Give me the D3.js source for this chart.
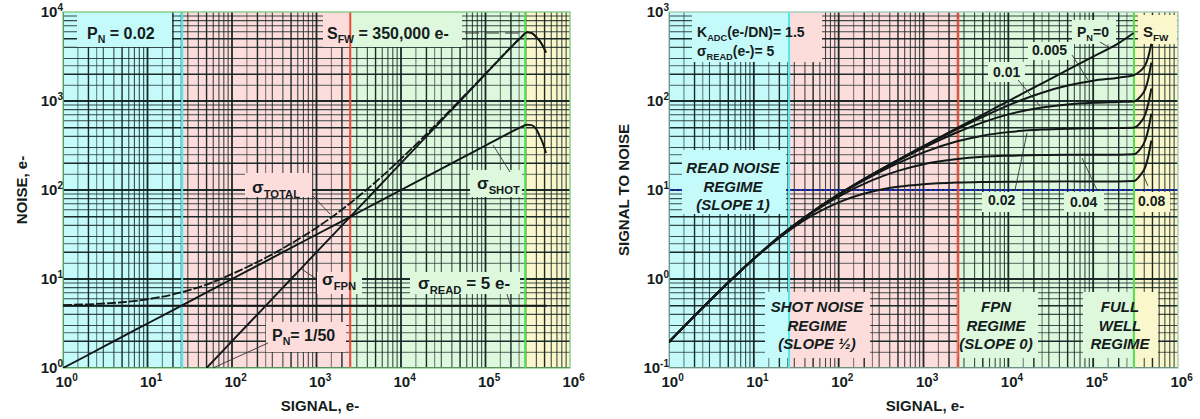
<!DOCTYPE html>
<html><head><meta charset="utf-8">
<script src="https://cdn.jsdelivr.net/npm/d3@7"></script>
<style>
body{margin:0;background:#fff}
svg{display:block}
text{font-family:"Liberation Sans",Arial,sans-serif;font-weight:bold;fill:#141c1c}
</style>
</head><body><svg id="c" width="1200" height="419"></svg>
<script>
// ---------------- DATA ----------------
const decadeTicks = [1, 10, 100, 1e3, 1e4, 1e5, 1e6];
const noiseTicks = [1, 10, 100, 1e3, 1e4];
const snrTicks = [0.1, 1, 10, 100, 1000];
const gridMultipliers = [1, 1.5, 2, 2.5, 3, 4, 5, 6, 7, 8, 9];
const heavyMultipliers = [1, 2, 5];

const regimeEdgesLeft = [1, 25.7, 2510, 295000, 1e6];
const regimeEdgesRight = [1, 26, 2570, 302000, 1e6];
const regimeColors = ["#c4fafa", "#fddcdc", "#ddf8dc", "#fbf7cc"];
const regimeLineColors = ["#4eeaea", "#ee4b3a", "#4ee04e"];

// Left chart: noise vs signal
const shotSignal = [1,2,5,10,25,50,100,250,500,1000,2500,5000,1e4,2.5e4,5e4,1e5,2e5,2.7e5,3.1e5,3.5e5,4e5,4.4e5,4.8e5,5.2e5];
const shotNoise  = [1,1.41,2.24,3.16,5,7.07,10,15.8,22.4,31.6,50,70.7,100,158,224,316,447,515,540,535,480,400,330,260];
const fpnSignal = [50,100,250,500,1000,2500,5000,1e4,2.5e4,5e4,1e5,2e5,2.7e5,3.1e5,3.5e5,4e5,4.4e5,4.8e5,5.2e5];
const fpnNoise  = [1,2,5,10,20,50,100,200,500,1000,2000,4000,5300,5900,5800,5200,4700,4100,3500];
const totalSignal = [1,2,5,10,25,50,100,250,500,1000,2500,5000,1e4,2.5e4,5e4,1e5,2e5,2.7e5,3.1e5,3.5e5,4e5,4.4e5,4.8e5,5.2e5];
const totalNoise  = [5.1,5.2,5.48,5.92,7.07,8.66,11.4,17.3,25,37.7,70.9,123,224,524,1025,2025,4025,5330,5930,5830,5230,4730,4130,3530];
const readSignal = [1, 5.3e5];
const readNoise = [5, 5];

// Right chart: SNR vs signal
const snrSignal = [1,2,5,10,25,50,100,250,500,1000,2500,5000,1e4,2.5e4,5e4,1e5,2e5,3e5];
const snrTailSignal = [3.6e5, 4.1e5, 4.45e5, 4.85e5];
const snrPN0    = [0.196,0.385,0.913,1.69,3.54,5.77,8.94,15.1,21.8,31.2,49.8,70.5,99.9,158,224,316,447,580];
const snrPN005  = [0.196,0.385,0.913,1.69,3.54,5.77,8.93,15.0,21.7,30.9,48.3,66.5,89.4,124,149,169,183,195, 218,252,310,440];
const snrPN01   = [0.196,0.385,0.913,1.69,3.54,5.76,8.91,14.9,21.3,29.8,44.5,57.6,70.7,84.5,91.3,95.3,97.6,99, 112,135,175,270];
const snrPN02   = [0.196,0.385,0.913,1.69,3.53,5.74,8.80,14.4,20.0,26.5,35.3,40.8,44.7,47.7,48.8,49.4,49.7,50, 57,70,92,138];
const snrPN04   = [0.196,0.385,0.912,1.69,3.50,5.63,8.42,12.9,16.4,19.5,22.3,23.6,24.25,24.7,24.85,24.9,24.95,25.2, 29,36,47,72];
const snrPN08   = [0.196,0.385,0.910,1.68,3.40,5.24,7.27,9.62,10.85,11.6,12.12,12.3,12.4,12.45,12.5,12.5,12.5,12.6, 14.7,18,23.5,36];
const snrGuide = [10];

// ---------------- HELPERS ----------------
const svg = d3.select("#c");

function rich(g, x, y, parts, size, opts = {}) {
  const t = g.append("text").attr("x", x).attr("y", y)
    .attr("font-size", size).attr("text-anchor", opts.anchor || "start");
  if (opts.italic) t.attr("font-style", "italic");
  let off = 0;
  parts.forEach(p => {
    const [s, kind] = Array.isArray(p) ? p : [p, null];
    const ts = t.append("tspan").text(s);
    let target = 0, fs = size;
    if (kind === "sub") { target = size * 0.28; fs = size * 0.66; }
    if (kind === "sup") { target = -size * 0.42; fs = size * 0.66; }
    ts.attr("font-size", fs);
    if (target - off !== 0) ts.attr("dy", target - off);
    off = target;
  });
  return t;
}

function pairs(xs, ys) { return xs.map((v, i) => [v, ys[i]]); }

function buildChart(cfg) {
  const g = svg.append("g");
  const x = d3.scaleLog().domain([1, 1e6]).range([cfg.x0, cfg.x1]);
  const y = d3.scaleLog().domain(cfg.yDomain).range([cfg.y1, cfg.y0]);
  const clipId = "clip" + cfg.id;
  svg.append("clipPath").attr("id", clipId).append("rect")
    .attr("x", cfg.x0).attr("y", cfg.y0).attr("width", cfg.x1 - cfg.x0).attr("height", cfg.y1 - cfg.y0);

  const edges = cfg.edges;
  g.selectAll("rect.reg").data(regimeColors).join("rect")
    .attr("x", (d, i) => x(edges[i])).attr("width", (d, i) => x(edges[i + 1]) - x(edges[i]))
    .attr("y", cfg.y0).attr("height", cfg.y1 - cfg.y0).attr("fill", d => d);

  function gridVals(domain) {
    const out = [];
    const lo = Math.round(Math.log10(domain[0])), hi = Math.round(Math.log10(domain[1]));
    for (let e = lo; e < hi; e++) gridMultipliers.forEach(m => out.push({ v: m * Math.pow(10, e), heavy: heavyMultipliers.includes(m), m }));
    return out;
  }
  const op = d => d.heavy ? 0.95 : (d.m % 1 ? 0.55 : 0.8);
  const sw = d => d.m === 1 ? 1.8 : (d.heavy ? 1.4 : 1.1);
  const grid = g.append("g").attr("clip-path", `url(#${clipId})`);
  grid.selectAll("line.vx").data(gridVals([1, 1e6])).join("line")
    .attr("x1", d => x(d.v)).attr("x2", d => x(d.v)).attr("y1", cfg.y0).attr("y2", cfg.y1)
    .attr("stroke", "#102020").attr("stroke-opacity", op).attr("stroke-width", sw);
  grid.selectAll("line.hy").data(gridVals(cfg.yDomain)).join("line")
    .attr("y1", d => y(d.v)).attr("y2", d => y(d.v)).attr("x1", cfg.x0).attr("x2", cfg.x1)
    .attr("stroke", "#102020").attr("stroke-opacity", op).attr("stroke-width", sw);

  if (cfg.guide) {
    g.selectAll("line.guide").data(cfg.guide).join("line")
      .attr("x1", cfg.x0).attr("x2", cfg.x1).attr("y1", d => y(d)).attr("y2", d => y(d))
      .attr("stroke", "#1a2cff").attr("stroke-width", 1.6).attr("stroke-dasharray", "3,2");
  }

  cfg.boxes.forEach(b => {
    const [bx0, bx1, by0, by1] = b;
    for (let i = 0; i < 4; i++) {
      const rx0 = Math.max(bx0, x(edges[i])), rx1 = Math.min(bx1, x(edges[i + 1]));
      if (rx1 > rx0) g.append("rect").attr("x", rx0).attr("y", by0).attr("width", rx1 - rx0)
        .attr("height", by1 - by0).attr("fill", regimeColors[i]);
    }
  });

  g.selectAll("line.edge").data(edges.slice(1, 4)).join("line")
    .attr("x1", d => x(d)).attr("x2", d => x(d)).attr("y1", cfg.y0).attr("y2", cfg.y1)
    .attr("stroke", (d, i) => regimeLineColors[i]).attr("stroke-width", 2);

  g.append("rect").attr("x", cfg.x0).attr("y", cfg.y0).attr("width", cfg.x1 - cfg.x0)
    .attr("height", cfg.y1 - cfg.y0).attr("fill", "none").attr("stroke", cfg.border).attr("stroke-width", 1.3);

  const fmtExp = d => String(Math.round(Math.log10(d)));
  const ax = g.append("g").attr("transform", `translate(0,${cfg.y1})`)
    .call(d3.axisBottom(x).tickValues(decadeTicks).tickSize(0).tickPadding(8).tickFormat(fmtExp));
  ax.select(".domain").remove();
  ax.selectAll("text").each(function () {
    const t = d3.select(this); const e = t.text();
    t.text(null).attr("font-size", 15).attr("text-anchor", "start").attr("x", -8).attr("fill", "#141c1c")
      .attr("font-family", '"Liberation Sans",Arial,sans-serif');
    t.append("tspan").text("10");
    t.append("tspan").text(e).attr("font-size", 10).attr("dy", -6);
  });
  const ay = g.append("g").attr("transform", `translate(${cfg.x0},0)`)
    .call(d3.axisLeft(y).tickValues(cfg.yTicks).tickSize(0).tickPadding(0).tickFormat(fmtExp));
  ay.select(".domain").remove();
  ay.selectAll("text").each(function () {
    const t = d3.select(this); const e = t.text();
    t.text(null).attr("font-size", 15).attr("text-anchor", "end").attr("fill", "#141c1c")
      .attr("font-family", '"Liberation Sans",Arial,sans-serif');
    t.append("tspan").text("10");
    t.append("tspan").text(e).attr("font-size", 10).attr("dy", -6);
  });

  return { g, x, y, clipId };
}

const line = (c) => d3.line().x(d => c.x(d[0])).y(d => c.y(d[1])).curve(d3.curveMonotoneX);

// ---------------- LEFT CHART ----------------
const L = buildChart({
  id: "L", x0: 63, x1: 570, y0: 12, y1: 368, yDomain: [1, 1e4], yTicks: noiseTicks,
  edges: regimeEdgesLeft, border: "#7cc87c",
  boxes: [[77,172,12,47],[323,462,12,47],[245,312,173,197],[470,522,170,197],
          [317,362,272,294],[410,520,272,294],[266,346,322,352]]
});
const Lc = L.g.append("g").attr("clip-path", `url(#${L.clipId})`).attr("fill", "none").attr("stroke", "#121818");
Lc.append("path").datum(pairs(readSignal, readNoise)).attr("d", line(L)).attr("stroke-width", 2);
Lc.append("path").datum(pairs(shotSignal, shotNoise)).attr("d", line(L)).attr("stroke-width", 1.9);
Lc.append("path").datum(pairs(fpnSignal, fpnNoise)).attr("d", line(L)).attr("stroke-width", 1.9);
Lc.append("path").datum(pairs(totalSignal, totalNoise)).attr("d", line(L)).attr("stroke-width", 1.8)
  .attr("stroke-dasharray", "9,2");

const leadersL = [[313,196,330,214],[510,172,493,145],[315,278,300,268],[507,294,510,304],[268,343,213,368]];
L.g.selectAll("line.lead").data(leadersL).join("line")
  .attr("x1", d => d[0]).attr("y1", d => d[1]).attr("x2", d => d[2]).attr("y2", d => d[3])
  .attr("stroke", "#333").attr("stroke-width", 0.9);
L.g.append("line").attr("x1", 465).attr("x2", 525).attr("y1", 33).attr("y2", 33)
  .attr("stroke", "#333").attr("stroke-width", 1).attr("stroke-dasharray", "14,6");

rich(L.g, 87, 39, ["P", ["N", "sub"], " = 0.02"], 16);
rich(L.g, 327, 39, ["S", ["FW", "sub"], " = 350,000 e-"], 16);
rich(L.g, 252, 193, ["σ", ["TOTAL", "sub"]], 17);
rich(L.g, 477, 189, ["σ", ["SHOT", "sub"]], 17);
rich(L.g, 322, 285, ["σ", ["FPN", "sub"]], 17);
rich(L.g, 418, 289, ["σ", ["READ", "sub"], " = 5 e-"], 17);
rich(L.g, 272, 341, ["P", ["N", "sub"], "= 1/50"], 16);

L.g.append("text").attr("transform", "translate(27,190) rotate(-90)").attr("text-anchor", "middle")
  .attr("font-size", 15).text("NOISE, e-");
L.g.append("text").attr("x", 320).attr("y", 411).attr("text-anchor", "middle").attr("font-size", 15).text("SIGNAL, e-");

// ---------------- RIGHT CHART ----------------
const R = buildChart({
  id: "R", x0: 669, x1: 1178, y0: 12, y1: 368, yDomain: [0.1, 1000], yTicks: snrTicks,
  edges: regimeEdgesRight, border: "#9cc8b4", guide: snrGuide,
  boxes: [[692,822,12,62],[682,786,150,214],[765,870,292,358],[957,1038,292,358],[1083,1158,292,358],
          [1072,1116,20,44],[1028,1074,42,60],[988,1025,62,82],[982,1022,192,212],[1064,1104,192,212],
          [1135,1170,192,212],[1138,1177,15,44]]
});
const Rc = R.g.append("g").attr("clip-path", `url(#${R.clipId})`).attr("fill", "none").attr("stroke", "#121818")
  .attr("stroke-width", 2);
const fullSignal = snrSignal.concat(snrTailSignal);
Rc.append("path").datum(pairs(snrSignal, snrPN0)).attr("d", line(R));
[snrPN005, snrPN01, snrPN02, snrPN04, snrPN08].forEach(s => {
  Rc.append("path").datum(pairs(fullSignal, s)).attr("d", line(R));
});

const leadersR = [[1100,42,1110,48],[1072,55,1088,80],[1018,80,1040,106],[1015,190,1027,133],
                  [1097,190,1082,158],[1148,186,1142,172]];
R.g.selectAll("line.lead").data(leadersR).join("line")
  .attr("x1", d => d[0]).attr("y1", d => d[1]).attr("x2", d => d[2]).attr("y2", d => d[3])
  .attr("stroke", "#333").attr("stroke-width", 0.9);

rich(R.g, 697, 37, ["K", ["ADC", "sub"], "(e-/DN)= 1.5"], 14);
rich(R.g, 697, 56, ["σ", ["READ", "sub"], "(e-)= 5"], 14);
[["READ NOISE", "REGIME", "(SLOPE 1)", 733, 173],
 ["SHOT NOISE", "REGIME", "(SLOPE ½)", 817, 312],
 ["FPN", "REGIME", "(SLOPE 0)", 996, 312],
 ["FULL", "WELL", "REGIME", 1120, 312]].forEach(r => {
  for (let i = 0; i < 3; i++) {
    R.g.append("text").attr("x", r[3]).attr("y", r[4] + i * 18.5).attr("text-anchor", "middle")
      .attr("font-size", 15).attr("font-style", "italic").attr("fill", "#1a3634").text(r[i]);
  }
});
rich(R.g, 1077, 37, ["P", ["N", "sub"], "=0"], 14);
rich(R.g, 1032, 55, ["0.005"], 14);
rich(R.g, 993, 77, ["0.01"], 14);
rich(R.g, 988, 205, ["0.02"], 14);
rich(R.g, 1070, 207, ["0.04"], 14);
rich(R.g, 1138, 206, ["0.08"], 14);
rich(R.g, 1143, 37, ["S", ["FW", "sub"]], 15);

R.g.append("text").attr("transform", "translate(629,190) rotate(-90)").attr("text-anchor", "middle")
  .attr("font-size", 15).text("SIGNAL TO NOISE");
R.g.append("text").attr("x", 925).attr("y", 411).attr("text-anchor", "middle").attr("font-size", 15).text("SIGNAL, e-");
</script>
</body></html>
